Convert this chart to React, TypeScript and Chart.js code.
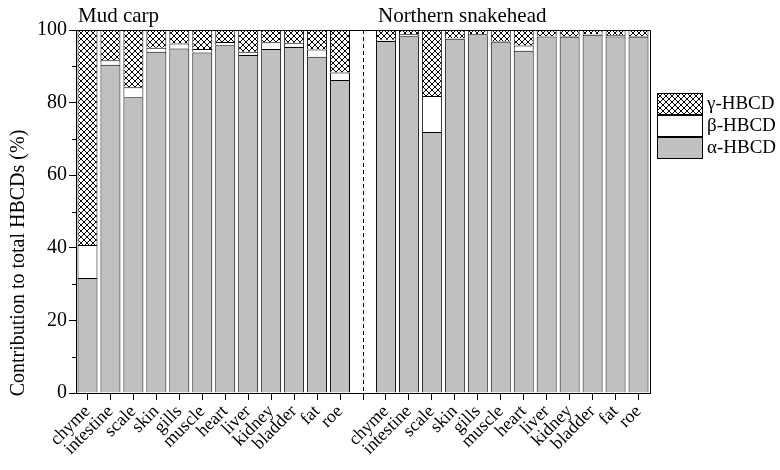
import React, { useEffect, useRef } from "react";
import { Chart, registerables } from "chart.js";

Chart.register(...registerables);

const categories = ["chyme", "intestine", "scale", "skin", "gills", "muscle", "heart", "liver", "kidney", "bladder", "fat", "roe"];
const groupTitles = ["Mud carp", "Northern snakehead"];
const seriesNames = ["α-HBCD", "β-HBCD", "γ-HBCD"];
const yTitle = "Contribution to total HBCDs (%)";

const mudAlpha = [31.7, 90.4, 81.5, 94.0, 94.9, 93.8, 95.8, 93.1, 94.8, 95.3, 92.6, 86.2];
const mudBeta = [9.1, 1.3, 2.7, 1.1, 1.4, 1.0, 0.9, 0.9, 1.8, 1.2, 2.0, 2.1];
const mudGamma = [59.2, 8.3, 15.8, 4.9, 3.7, 5.2, 3.3, 6.0, 3.4, 3.5, 5.4, 11.7];

const snakeAlpha = [97.0, 98.3, 71.9, 97.6, 98.8, 96.6, 94.3, 98.2, 98.0, 98.7, 98.2, 98.0];
const snakeBeta = [0.3, 0.5, 9.9, 0.1, 0.1, 0.2, 1.4, 0.1, 0.2, 0.2, 0.4, 0.3];
const snakeGamma = [2.7, 1.2, 18.2, 2.3, 1.1, 3.2, 4.3, 1.7, 1.8, 1.1, 1.4, 1.7];

const yTicks = [0, 20, 40, 60, 80, 100];
const yMinorTicks = [10, 30, 50, 70, 90];

const FONT = "'Liberation Serif', 'Times New Roman', serif";
const GRAY = "#c0c0c0";

function makeHatch(): CanvasPattern | string {
  const c = document.createElement("canvas");
  c.width = 6;
  c.height = 6;
  const g = c.getContext("2d");
  if (!g) return "#fff";
  g.fillStyle = "#fff";
  g.fillRect(0, 0, 6, 6);
  g.strokeStyle = "#000";
  g.lineWidth = 1;
  g.beginPath();
  g.moveTo(0, 0);
  g.lineTo(6, 6);
  g.moveTo(6, 0);
  g.lineTo(0, 6);
  g.stroke();
  const p = g.createPattern(c, "repeat");
  return p || "#fff";
}

export default function App() {
  const ref = useRef<HTMLCanvasElement | null>(null);

  useEffect(() => {
    if (!ref.current) return;
    const hatch = makeHatch();
    const labels = [...categories, "", ...categories];
    const join = (a: number[], b: number[]) => [...a, null, ...b];

    const decor = {
      id: "decor",
      afterDraw(chart: any) {
        const ctx = chart.ctx;
        const a = chart.chartArea;
        const xs = chart.scales.x;
        const ys = chart.scales.y;
        ctx.save();
        ctx.strokeStyle = "#000";
        ctx.lineWidth = 1;
        ctx.beginPath();
        ctx.moveTo(a.left, a.top + 0.5);
        ctx.lineTo(a.right + 0.5, a.top + 0.5);
        ctx.lineTo(a.right + 0.5, a.bottom);
        ctx.stroke();
        ctx.beginPath();
        for (const v of yMinorTicks) {
          const y = Math.round(ys.getPixelForValue(v)) + 0.5;
          ctx.moveTo(a.left - 4, y);
          ctx.lineTo(a.left, y);
        }
        ctx.stroke();
        const sx = Math.round(xs.getPixelForValue(categories.length)) + 0.5;
        ctx.setLineDash([4, 3]);
        ctx.beginPath();
        ctx.moveTo(sx, a.top);
        ctx.lineTo(sx, a.bottom);
        ctx.stroke();
        ctx.setLineDash([]);
        ctx.fillStyle = "#000";
        ctx.font = `21px ${FONT}`;
        ctx.textBaseline = "alphabetic";
        ctx.textAlign = "left";
        ctx.fillText(groupTitles[0], a.left + 2, 22);
        const sn = xs.getPixelForValue(categories.length + 1);
        ctx.fillText(groupTitles[1], sn - 8, 22);
        // y title
        ctx.save();
        ctx.translate(19, 263);
        ctx.rotate(-Math.PI / 2);
        ctx.font = `20px ${FONT}`;
        ctx.textAlign = "center";
        ctx.textBaseline = "middle";
        ctx.fillText(yTitle, 0, 0);
        ctx.restore();
        // legend
        const lx = 657;
        const ly = [93, 115, 137];
        const fills = [hatch, "#fff", GRAY];
        const names = [seriesNames[2], seriesNames[1], seriesNames[0]];
        ctx.font = `19px ${FONT}`;
        ctx.textBaseline = "middle";
        ctx.textAlign = "left";
        for (let i = 0; i < 3; i++) {
          ctx.fillStyle = fills[i] as any;
          ctx.fillRect(lx, ly[i], 45, 21);
          ctx.strokeStyle = "#000";
          ctx.strokeRect(lx + 0.5, ly[i] + 0.5, 45, 21);
          ctx.fillStyle = "#000";
          ctx.fillText(names[i], lx + 50, ly[i] + 11.5);
        }
        ctx.restore();
      },
    };

    const chart = new Chart(ref.current, {
      type: "bar",
      data: {
        labels,
        datasets: [
          { label: seriesNames[0], data: join(mudAlpha, snakeAlpha), backgroundColor: GRAY, borderColor: "#000", borderWidth: 1 },
          { label: seriesNames[1], data: join(mudBeta, snakeBeta), backgroundColor: "#fff", borderColor: "#000", borderWidth: 1 },
          { label: seriesNames[2], data: join(mudGamma, snakeGamma), backgroundColor: hatch as any, borderColor: "#000", borderWidth: 1 },
        ],
      },
      options: {
        animation: false,
        responsive: false,
        maintainAspectRatio: false,
        layout: { padding: { left: 0, right: 130, top: 30, bottom: 0 } },
        plugins: { legend: { display: false }, tooltip: { enabled: false }, title: { display: false } },
        datasets: { bar: { categoryPercentage: 1, barPercentage: 0.87 } },
        scales: {
          x: {
            stacked: true,
            offset: true,
            grid: { display: true, drawOnChartArea: false, drawTicks: true, tickLength: 7, color: "#000", offset: false },
            border: { display: true, color: "#000", width: 1 },
            ticks: { autoSkip: false, maxRotation: 45, minRotation: 45, color: "#000", font: { family: FONT, size: 18 }, padding: 1 },
            afterFit: (s: any) => { s.height = 77; },
          },
          y: {
            stacked: true,
            min: 0,
            max: 100,
            afterBuildTicks: (s: any) => { s.ticks = yTicks.map((v) => ({ value: v })); },
            grid: { display: true, drawOnChartArea: false, drawTicks: true, tickLength: 7, color: "#000" },
            border: { display: true, color: "#000", width: 1 },
            ticks: { color: "#000", font: { family: FONT, size: 20 }, padding: 2 },
            title: { display: false },
            afterFit: (s: any) => { s.width = 76; },
          },
        },
      },
      plugins: [decor],
    });
    return () => chart.destroy();
  }, []);

  return (
    <div style={{ position: "fixed", left: 0, top: 0, width: 780, height: 470, background: "#fff" }}>
      <canvas ref={ref} width={780} height={470} style={{ width: 780, height: 470 }} />
    </div>
  );
}
